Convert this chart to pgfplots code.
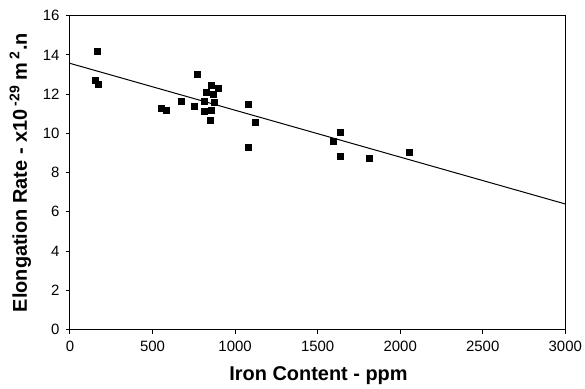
\documentclass[border=0pt]{standalone}
\usepackage{fontspec}
\setmainfont{Liberation Sans}
\usepackage{pgfplots}
\pgfplotsset{compat=1.18}
\begin{document}
\begin{tikzpicture}
\begin{axis}[
  scale only axis, width=495.3bp, height=313.8bp,
  xmin=0, xmax=3000, ymin=0, ymax=16,
  xtick={0,500,...,3000}, ytick={0,2,...,16},
  xtick pos=bottom, ytick pos=left, tick align=outside,
  major tick length=4bp,
  axis line style={line width=1bp},
  major tick style={line width=1bp, black},
  tick label style={font=\fontsize{15}{16}\selectfont},
  x tick label style={yshift=-4bp},
  y tick label style={xshift=-3bp},
  /pgf/number format/assume math mode=true,
  /pgf/number format/set thousands separator={},
  scaled x ticks=false,
  xlabel={\textbf{Iron Content - ppm}},
  ylabel={\textbf{Elongation Rate - x10\,\textsuperscript{-29} m\,\textsuperscript{2}.n}},
  label style={font=\fontsize{20}{24}\selectfont\bfseries},
  xlabel style={at={(axis description cs:0.5017,-0.163)}, anchor=base},
  ylabel style={at={(axis description cs:-0.1,0.5)}, anchor=center},
]
\addplot[only marks, mark=square*, mark size=3bp, black] coordinates {
(162,14.17) (153,12.71) (168,12.50) (555,11.30) (583,11.19) (676,11.64)
(773,13.04) (751,11.38) (810,11.64) (810,11.14) (822,12.08) (854,12.45)
(866,12.02) (896,12.32) (872,11.59) (854,11.19) (850,10.65) (1082,11.48)
(1082,9.29) (1123,10.55) (1635,10.07) (1595,9.58) (1635,8.85) (1813,8.71)
(2053,9.05)
};
\addplot[black, line width=1bp] coordinates {(0,13.57) (3000,6.40)};
\end{axis}
\pgfresetboundingbox
\path (-70bp,-59.5bp) rectangle (515bp,329.5bp);
\end{tikzpicture}
\end{document}
